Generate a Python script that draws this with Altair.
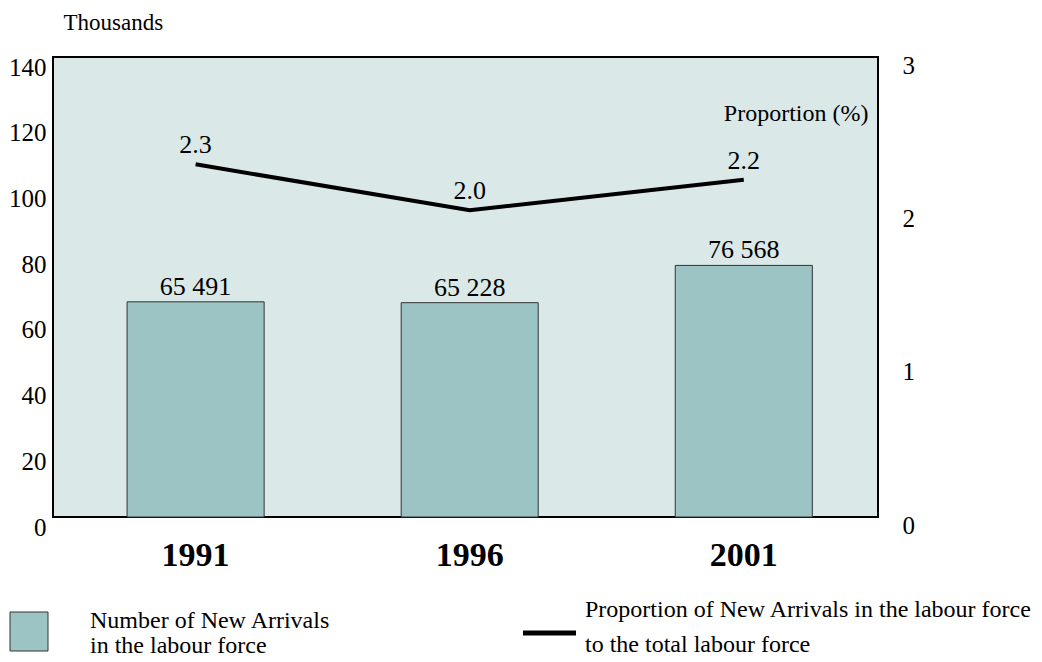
import altair as alt
import pandas as pd

years = ["1991", "1996", "2001"]
arrivals = [65491, 65228, 76568]
proportion = [2.3, 2.0, 2.2]
left_ticks = [0, 20, 40, 60, 80, 100, 120, 140]
right_ticks = [0, 1, 2, 3]

FONT = "Liberation Serif"
BAR = "#9cc4c4"
BG = "#dbe8e8"

df = pd.DataFrame({
    "year": years,
    "arrivals": arrivals,
    "thousands": [v / 1000 for v in arrivals],
    "label": [f"{v:,}".replace(",", " ") for v in arrivals],
    "prop": proportion,
    "plabel": [f"{p:.1f}" for p in proportion],
})

W, H = 825, 460

x = alt.X("year:N", title=None,
          scale=alt.Scale(paddingInner=0.5, paddingOuter=0.255, align=0.53),
          axis=alt.Axis(labelAngle=0, labelFont=FONT, labelFontSize=34,
                        labelFontWeight="bold", labelColor="black",
                        labelPadding=21, ticks=False, domain=False))

yl = alt.Y("thousands:Q",
           scale=alt.Scale(domain=[0, 140], nice=False),
           axis=alt.Axis(values=left_ticks, title="Thousands", titleAngle=0,
                         titleAlign="left", titleBaseline="middle",
                         titleX=10, titleY=-35, titleFont=FONT, titleFontSize=23,
                         titleFontWeight="normal", titleColor="black",
                         labelFont=FONT, labelFontSize=25, labelColor="black",
                         labelPadding=7, labelOffset=10, ticks=False, grid=False,
                         domain=False))

yr = alt.Y("prop:Q",
           scale=alt.Scale(domain=[0, 3], nice=False),
           axis=alt.Axis(orient="right", values=right_ticks, title="Proportion (%)",
                         titleAngle=0, titleAlign="right", titleBaseline="middle",
                         titleX=-10, titleY=56, titleFont=FONT, titleFontSize=24,
                         titleFontWeight="normal", titleColor="black",
                         labelFont=FONT, labelFontSize=25, labelColor="black",
                         labelPadding=24, labelOffset=8, ticks=False, grid=False,
                         domain=False))

base = alt.Chart(df)

bars = base.mark_bar(color=BAR, stroke="#333333", strokeWidth=1).encode(x=x, y=yl)
line = base.mark_line(color="black", strokeWidth=4).encode(x=x, y=yr)

bar_text = base.mark_text(font=FONT, fontSize=26, baseline="alphabetic", dy=-7,
                          color="black").encode(
    x=x, y=alt.Y("thousands:Q", scale=alt.Scale(domain=[0, 140], nice=False), axis=None),
    text="label:N")
line_text = base.mark_text(font=FONT, fontSize=26, baseline="alphabetic", dy=-11,
                           color="black").encode(
    x=x, y=alt.Y("prop:Q", scale=alt.Scale(domain=[0, 3], nice=False), axis=None),
    text="plabel:N")

one = pd.DataFrame({"k": [0]})
leg = alt.Chart(one)
leg_sq = leg.mark_rect(color=BAR, stroke="#333333", strokeWidth=1).encode(
    x=alt.value(-43), x2=alt.value(-5), y=alt.value(555), y2=alt.value(594))
leg_t1 = leg.mark_text(font=FONT, fontSize=24, align="left", baseline="middle").encode(
    x=alt.value(37), y=alt.value(564), text=alt.value("Number of New Arrivals"))
leg_t2 = leg.mark_text(font=FONT, fontSize=24, align="left", baseline="middle").encode(
    x=alt.value(37), y=alt.value(589), text=alt.value("in the labour force"))
leg_ln = leg.mark_rule(color="black", strokeWidth=5).encode(
    x=alt.value(470), x2=alt.value(523), y=alt.value(576))
leg_t3 = leg.mark_text(font=FONT, fontSize=24, align="left", baseline="middle").encode(
    x=alt.value(532), y=alt.value(553), text=alt.value("Proportion of New Arrivals in the labour force"))
leg_t4 = leg.mark_text(font=FONT, fontSize=24, align="left", baseline="middle").encode(
    x=alt.value(532), y=alt.value(588), text=alt.value("to the total labour force"))

chart = alt.layer(
    bars, line, bar_text, line_text,
    leg_sq, leg_t1, leg_t2, leg_ln, leg_t3, leg_t4
).resolve_scale(
    y="independent"
).properties(
    width=W, height=H,
    autosize=alt.AutoSizeParams(type="none"),
    padding={"left": 45, "top": 49, "right": 156, "bottom": 141},
    background="white",
).configure_view(
    fill=BG, stroke="black", strokeWidth=2
)

chart.save("out.html", embed_options={"renderer": "svg", "actions": False})
